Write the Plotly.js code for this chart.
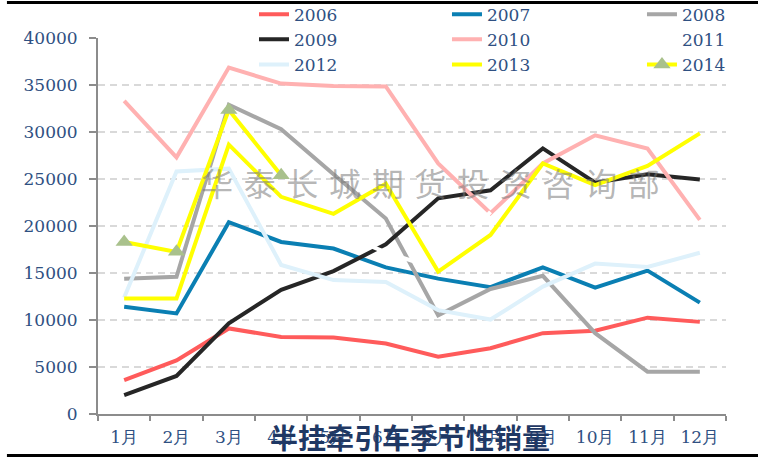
<!DOCTYPE html>
<html>
<head>
<meta charset="utf-8">
<script src="https://cdn.plot.ly/plotly-3.0.1.min.js"></script>
<style>html,body{margin:0;padding:0;background:#fff;}#chart{width:758px;height:457px;}</style>
</head>
<body>
<div id="chart"></div>
<script>
// ---- data ----
const months = ["1月","2月","3月","4月","5月","6月","7月","8月","9月","10月","11月","12月"];
const seriesNames = ["2006","2007","2008","2009","2010","2011","2012","2013","2014"];
const s2006 = [3600, 5700, 9100, 8200, 8150, 7500, 6100, 7000, 8600, 8850, 10250, 9800];
const s2007 = [11400, 10700, 20400, 18300, 17600, 15600, 14400, 13500, 15600, 13450, 15250, 11850];
const s2008 = [14400, 14600, 32900, 30300, 25500, 20800, 10500, 13300, 14700, 8600, 4500, 4500];
const s2009 = [2000, 4050, 9650, 13200, 15200, 18050, 22950, 23800, 28250, 24600, 25500, 24950];
const s2010 = [33300, 27300, 36850, 35150, 34900, 34850, 26650, 21350, 26650, 29650, 28250, 20650];
const s2011 = [null, null, null, null, 19500, 17200, 15400, 21500, null, null, null, null];
const s2012 = [12400, 25800, 26100, 15850, 14250, 14050, 11050, 10050, 13550, 16000, 15650, 17150];
const s2013 = [12300, 12300, 28650, 23100, 21300, 24500, 15150, 19050, 26650, 24350, 26400, 29850];
const s2014 = [18300, 17250, 32350, 25400, null, null, null, null, null, null, null, null];
const seriesValues = [s2006, s2007, s2008, s2009, s2010, s2011, s2012, s2013, s2014];
const chartTitle = "半挂牵引车季节性销量";
const watermark = "华泰长城期货投资咨询部";

// ---- styles ----
const colors = ["#ff5b5b", "#0a7fb3", "#a6a6a6", "#262626", "#ffb1b1", "#ffffff", "#def1fb", "#ffff00", "#ffff00"];
const textColor = "#2f5082";
const serif = "DejaVu Serif, Liberation Serif, serif";
const legendIds = ["legend", "legend2", "legend3"];

const traces = seriesNames.map((name, i) => {
  const t = {
    type: "scatter",
    mode: name === "2014" ? "lines+markers" : "lines",
    name: name,
    x: months,
    y: seriesValues[i],
    line: {color: colors[i], width: 4},
    legend: legendIds[i % 3],
    hoverinfo: "x+y+name"
  };
  if (name === "2014") {
    t.marker = {symbol: "triangle-up", size: 15, color: "#a9c18c", line: {width: 0}};
  }
  return t;
});

function legendBox(xp) {
  return {
    x: xp, y: 1.11, xanchor: "left", yanchor: "top",
    orientation: "v", bgcolor: "rgba(0,0,0,0)", borderwidth: 0,
    font: {family: serif, size: 17, color: textColor},
    tracegroupgap: 0, traceorder: "normal"
  };
}

const layout = {
  width: 758, height: 457,
  margin: {l: 98, r: 32, t: 38, b: 43, autoexpand: false},
  paper_bgcolor: "#ffffff", plot_bgcolor: "#ffffff",
  showlegend: true,
  legend: legendBox(0.2484),
  legend2: legendBox(0.5557),
  legend3: legendBox(0.8662),
  xaxis: {
    type: "category", range: [-0.5, 11.5], fixedrange: true,
    showline: true, linecolor: "#8c8c8c", linewidth: 2,
    ticks: "outside", tickson: "boundaries", ticklen: 5, tickwidth: 2, tickcolor: "#8c8c8c",
    showgrid: false, zeroline: false,
    tickfont: {family: serif, size: 17, color: textColor},
    ticklabelstandoff: 7
  },
  yaxis: {
    range: [0, 40000], dtick: 5000, tick0: 0, tickformat: "d", fixedrange: true,
    showline: true, linecolor: "#8c8c8c", linewidth: 2,
    ticks: "outside", ticklen: 7, tickwidth: 2, tickcolor: "#8c8c8c",
    showgrid: true, gridcolor: "#d9d9d9", gridwidth: 2, griddash: "7px,5px",
    zeroline: false,
    tickfont: {family: serif, size: 17, color: textColor},
    ticklabelstandoff: 8
  },
  shapes: [
    {type: "line", xref: "paper", yref: "paper", x0: -0.145, x1: 1.06, y0: 1.0945, y1: 1.0945,
     line: {color: "#000000", width: 3}},
    {type: "line", xref: "paper", yref: "paper", x0: -0.145, x1: 1.06, y0: -0.1105, y1: -0.1105,
     line: {color: "#000000", width: 3}}
  ],
  annotations: [
    {text: watermark.split("").join("\u2004"), xref: "paper", yref: "paper", x: 0.5287, y: 0.617,
     xanchor: "center", yanchor: "middle", showarrow: false,
     font: {family: "Noto Sans CJK SC", size: 32, color: "rgba(120,120,120,0.55)"}},
    {text: chartTitle, xref: "paper", yref: "paper", x: 0.4968, y: -0.062,
     xanchor: "center", yanchor: "middle", showarrow: false,
     font: {family: "Noto Sans CJK SC", size: 28, color: "#1f3864", weight: 700}}
  ]
};

Plotly.newPlot("chart", traces, layout, {staticPlot: true, displayModeBar: false});
</script>
</body>
</html>
